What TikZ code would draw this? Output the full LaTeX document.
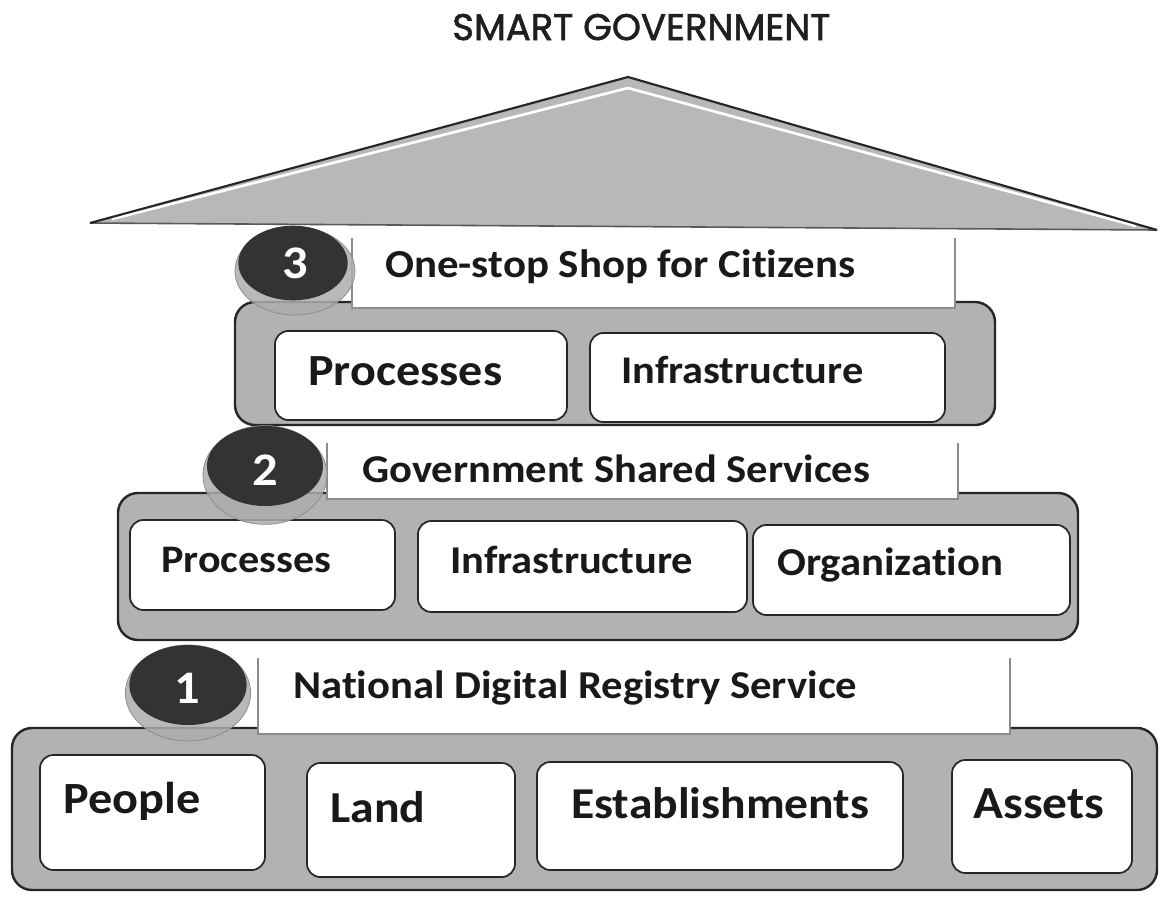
\documentclass[tikz,border=0pt]{standalone}
\usepackage{fontspec}
\setmainfont{Carlito}[FakeStretch=1.08, RawFeature={-liga;-dlig;-clig}]
\newfontfamily\titlefont{Poppins}[FakeBold=1.6]
\usepackage{graphicx}
\newlength\pxu \setlength\pxu{0.75pt}
\newcommand\fitw[2]{\resizebox{#1\pxu}{!}{#2}}
\begin{document}
\begin{tikzpicture}[x=0.75pt,y=-0.75pt,
  graybox/.style={draw=black!85, line width=1.8pt, fill=black!30, rounded corners=15pt},
  innerbox/.style={draw=black!85, line width=1.3pt, fill=white, rounded corners=10pt},
  labelbg/.style={fill=white},
  labelline/.style={draw=black!45, line width=0.8pt},
  txt/.style={anchor=base west, inner sep=0pt, font=\bfseries, text=black!90},
  rim/.style={fill=black!32, draw=black!45, line width=0.6pt, fill opacity=0.85},
  core/.style={fill=black!80},
  num/.style={inner sep=0pt, text=white, font=\fontsize{35}{35}\selectfont\bfseries}]
\useasboundingbox (0,0) rectangle (1160,897);
\fill[white] (0,0) rectangle (1160,897);

% title
\node[anchor=base west, inner sep=0pt, text=black!88, font=\titlefont] (title) at (452,40) {\fitw{378}{SMART GOVERNMENT}};

% roof
\coordinate (apex) at (628,77);
\coordinate (rl) at (90,223);
\coordinate (rr) at (1157,230);
\fill[black!28] (rl) -- (apex) -- (rr) -- cycle;
\draw[white, line width=2pt] (112,219) -- (628,88) -- (1136,226);
\draw[black!65, line width=1.2pt] (rl) -- (rr);
\draw[black!85, line width=1.6pt, line join=miter] (rl) -- (apex) -- (rr);

% ---------- level 3 ----------
\draw[graybox] (235,302) rectangle (995,425);
\fill[labelbg] (352,232) rectangle (955,308);
\draw[labelline] (352,238) -- (352,308) -- (955,308) -- (955,238);
\draw[innerbox] (275,331) rectangle (567,420);
\draw[innerbox] (590,333) rectangle (945,422);
\node[txt] (l3) at (385,277) {\fitw{470}{One-stop Shop for Citizens}};
\node[txt] (l3p) at (308,385) {\fitw{194}{Processes}};
\node[txt] (l3i) at (621,383) {\fitw{242}{Infrastructure}};
\fill[rim] (295,271) ellipse [x radius=45pt, y radius=33pt];
\fill[core] (293,263) ellipse [x radius=41pt, y radius=28pt];
\node[num] (n3) at (295,263) {3};

% ---------- level 2 ----------
\draw[graybox] (118,493) rectangle (1078,640);
\fill[labelbg] (327,437) rectangle (958,499);
\draw[labelline] (327,443) -- (327,499) -- (958,499) -- (958,443);
\draw[innerbox] (130,520) rectangle (395,610);
\draw[innerbox] (418,521) rectangle (747,612);
\draw[innerbox] (753,525) rectangle (1070,615);
\node[txt] (l2) at (362,482) {\fitw{508}{Government Shared Services}};
\node[txt] (l2p) at (161,572) {\fitw{170}{Processes}};
\node[txt] (l2i) at (450,573) {\fitw{243}{Infrastructure}};
\node[txt] (l2o) at (777,575) {\fitw{226}{Organization}};
\fill[rim] (265,475) ellipse [x radius=46.5pt, y radius=37pt];
\fill[core] (265,466) ellipse [x radius=43.5pt, y radius=30pt];
\node[num] (n2) at (265,470) {2};

% ---------- level 1 ----------
\draw[graybox] (12,728) rectangle (1157,890);
\fill[labelbg] (258,652) rectangle (1010,734);
\draw[labelline] (258,658) -- (258,734) -- (1010,734) -- (1010,658);
\draw[innerbox] (40,755) rectangle (265,870);
\draw[innerbox] (307,763) rectangle (515,877);
\draw[innerbox] (537,762) rectangle (903,870);
\draw[innerbox] (952,760) rectangle (1132,873);
\node[txt] (l1) at (293,698) {\fitw{564}{National Digital Registry Service}};
\node[txt] (l1p) at (63,813) {\fitw{137}{People}};
\node[txt] (l1l) at (330,822) {\fitw{95}{Land}};
\node[txt] (l1e) at (571,818) {\fitw{298}{Establishments}};
\node[txt] (l1a) at (973,818) {\fitw{131}{Assets}};
\fill[rim] (188,693) ellipse [x radius=47pt, y radius=36pt];
\fill[core] (188,685) ellipse [x radius=44pt, y radius=30pt];
\node[num] (n1) at (187,688) {1};
\end{tikzpicture}
\end{document}
